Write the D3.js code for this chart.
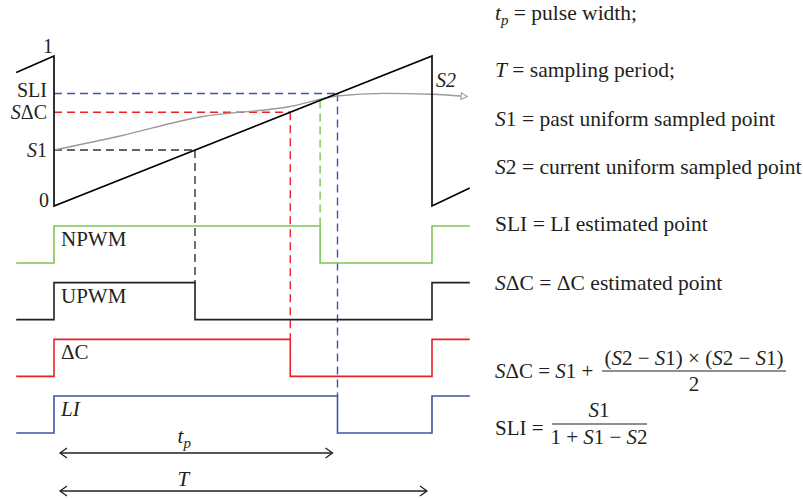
<!DOCTYPE html>
<html lang="en">
<head>
<meta charset="UTF-8">
<title>Uniform, natural and estimated PWM sampling</title>
<script src="https://d3js.org/d3.v7.min.js"></script>
<style>
  body { margin: 0; background: #fff; }
  text { font-family: "Liberation Serif", "Times New Roman", serif; fill: #231f20; }
</style>
</head>
<body>
<div id="chart"></div>
<script>
// time is in units of the sampling period T, carrier value is normalised 0..1
const sawtooth = [[-0.1, 0.89], [0, 1], [0, 0], [1, 1], [1, 0], [1.1, 0.12]];
const signal = [[0, 0.373], [0.175, 0.467], [0.386, 0.593], [0.624, 0.663],
                [0.749, 0.733], [0.87, 0.751], [1.0, 0.745], [1.093, 0.73]];

// pulse trains, top to bottom, and the carrier level where each one switches off
const pulseNames = ["NPWM", "UPWM", "ΔC", "LI"];
const pulseDuty = [0.704, 0.373, 0.625, 0.75];
const pulseColors = ["#7cc653", "#231f20", "#ec2227", "#3a56a6"];
const pulseItalic = [false, false, false, true];
const pulseHasLevel = [false, true, true, true];   // horizontal dashed guide from the axis

// value labels on the left of the carrier
const axisLabels = [
  { v: 1, parts: [["1", false]] },
  { v: 0.75, parts: [["SLI", false]] },
  { v: 0.625, parts: [["S", true], ["ΔC", false]] },
  { v: 0.373, parts: [["S", true], ["1", false]] },
  { v: 0, parts: [["0", false]] }
];

// legend on the right
const legendRows = [
  [["t", true], ["p", true, "sub"], [" = pulse width;", false, "up"]],
  [["T", true], [" = sampling period;", false]],
  [["S", true], ["1 = past uniform sampled point", false]],
  [["S", true], ["2 = current uniform sampled point", false]],
  [["SLI = LI estimated point", false]],
  [["S", true], ["ΔC = ΔC estimated point", false]]
];
const legendBaselines = [20, 77, 126, 174, 231, 290];

const width = 803, height = 500;
const x = d3.scaleLinear().domain([0, 1]).range([54, 432]);
const y = d3.scaleLinear().domain([0, 1]).range([206, 56]);
const rowY = d3.scalePoint().domain(pulseNames).range([226, 396]);
const amp = 37;
const levelY = (name, v) => rowY(name) + (1 - v) * amp;

const svg = d3.select("#chart").append("svg")
  .attr("width", width).attr("height", height);

const defs = svg.append("defs");
defs.append("marker").attr("id", "chev")
  .attr("viewBox", "-8 -6 10 12").attr("refX", 0).attr("refY", 0)
  .attr("markerWidth", 10).attr("markerHeight", 12)
  .attr("markerUnits", "userSpaceOnUse").attr("orient", "auto-start-reverse")
  .append("path").attr("d", "M-7,-5L0,0L-7,5")
  .attr("fill", "none").attr("stroke", "#231f20").attr("stroke-width", 1.3);
defs.append("marker").attr("id", "tri")
  .attr("viewBox", "-7 -4 8 8").attr("refX", 0).attr("refY", 0)
  .attr("markerWidth", 8).attr("markerHeight", 8)
  .attr("markerUnits", "userSpaceOnUse").attr("orient", "auto")
  .append("path").attr("d", "M-6,-3.5L0,0L-6,3.5Z")
  .attr("fill", "#fff").attr("stroke", "#999").attr("stroke-width", 1);

const line = d3.line().x(d => x(d[0])).y(d => y(d[1]));

// dashed guides (drawn first so the solid lines sit on top)
pulseNames.forEach((name, i) => {
  const d = pulseDuty[i];
  const col = pulseColors[i] === "#231f20" ? "#333" : pulseColors[i];
  const guide = svg.append("g").attr("fill", "none").attr("stroke", col)
    .attr("stroke-width", 1.4).attr("stroke-dasharray", "8,5");
  if (pulseHasLevel[i]) {
    guide.append("line").attr("x1", x(0)).attr("x2", x(d)).attr("y1", y(d)).attr("y2", y(d));
  }
  guide.append("line").attr("x1", x(d)).attr("x2", x(d))
    .attr("y1", y(d)).attr("y2", levelY(name, 1));
});

// sampled signal
svg.append("path").datum(signal)
  .attr("d", line.curve(d3.curveMonotoneX))
  .attr("fill", "none").attr("stroke", "#9a9a9a").attr("stroke-width", 1.4)
  .attr("marker-end", "url(#tri)");

// carrier sawtooth
svg.append("path").datum(sawtooth)
  .attr("d", d3.line().x(d => x(d[0])).y(d => y(d[1])))
  .attr("fill", "none").attr("stroke", "#000").attr("stroke-width", 1.6);

// pulse trains
pulseNames.forEach((name, i) => {
  const d = pulseDuty[i];
  const pts = [[-0.1, 0], [0, 0], [0, 1], [d, 1], [d, 0], [1, 0], [1, 1], [1.1, 1]];
  svg.append("path").datum(pts)
    .attr("d", d3.line().x(p => x(p[0])).y(p => levelY(name, p[1])))
    .attr("fill", "none").attr("stroke", pulseColors[i]).attr("stroke-width", 1.6);
  svg.append("text").attr("x", x(0) + 7).attr("y", rowY(name) + 20)
    .attr("font-size", 21).attr("font-style", pulseItalic[i] ? "italic" : null)
    .text(name);
});

// left value labels
axisLabels.forEach(l => {
  const isEnd = l.v === 1 || l.v === 0;
  let yy = y(l.v) + 7;
  if (l.v === 1) yy = 53;
  else if (l.v === 0) yy = 207;
  else if (l.v === 0.75) yy = y(l.v) + 3;
  const t = svg.append("text")
    .attr("x", l.v === 1 ? 48 : (l.v === 0 ? 44 : 47))
    .attr("y", yy)
    .attr("font-size", 20)
    .attr("text-anchor", isEnd ? "middle" : "end");
  l.parts.forEach(p => t.append("tspan").attr("font-style", p[1] ? "italic" : null).text(p[0]));
});

// S2 label beside the carrier reset
svg.append("text").attr("x", 436).attr("y", 87).attr("font-size", 20)
  .attr("font-style", "italic").text("S2");

// time spans
const spans = [
  { from: 0, to: pulseDuty[3], yy: 453, label: "t", sub: "p", ly: 443 },
  { from: 0, to: 1, yy: 491, label: "T", sub: null, ly: 486 }
];
spans.forEach(s => {
  svg.append("line").attr("x1", x(s.from) + 6).attr("x2", x(s.to) - 5)
    .attr("y1", s.yy).attr("y2", s.yy)
    .attr("stroke", "#231f20").attr("stroke-width", 1.3)
    .attr("marker-start", "url(#chev)").attr("marker-end", "url(#chev)");
  const t = svg.append("text").attr("x", x(0.327)).attr("y", s.ly).attr("font-size", 21)
    .attr("font-style", "italic");
  t.append("tspan").text(s.label);
  if (s.sub) t.append("tspan").attr("dy", 5).attr("font-size", 15).text(s.sub);
});

// legend text
legendRows.forEach((row, i) => {
  const t = svg.append("text").attr("x", 495).attr("y", legendBaselines[i]).attr("font-size", 21.5);
  row.forEach(p => {
    const ts = t.append("tspan").attr("font-style", p[1] ? "italic" : null).text(p[0]);
    if (p[2] === "sub") ts.attr("dy", 5).attr("font-size", 15);
    else if (p[2] === "up") ts.attr("dy", -5);
  });
});

// formulas
function rich(g, xx, yy, parts, anchor, size) {
  const t = g.append("text").attr("x", xx).attr("y", yy).attr("font-size", size)
    .attr("text-anchor", anchor || "start");
  parts.forEach(p => t.append("tspan").attr("font-style", p[1] ? "italic" : null).text(p[0]));
  return t;
}
const f = svg.append("g");
rich(f, 495, 378, [["S", true], ["ΔC = ", false], ["S", true], ["1 + ", false]], "start", 21);
rich(f, 694, 365, [["(", false], ["S", true], ["2 − ", false], ["S", true], ["1) × (", false],
                   ["S", true], ["2 − ", false], ["S", true], ["1)", false]], "middle", 21);
f.append("line").attr("x1", 602).attr("x2", 786).attr("y1", 371).attr("y2", 371)
  .attr("stroke", "#231f20").attr("stroke-width", 1);
rich(f, 694, 391, [["2", false]], "middle", 21);

rich(f, 495, 435, [["SLI = ", false]], "start", 21);
rich(f, 599, 417, [["S", true], ["1", false]], "middle", 21);
f.append("line").attr("x1", 552).attr("x2", 647).attr("y1", 424).attr("y2", 424)
  .attr("stroke", "#231f20").attr("stroke-width", 1);
rich(f, 599, 444, [["1 + ", false], ["S", true], ["1 − ", false], ["S", true], ["2", false]], "middle", 21);
</script>
</body>
</html>
